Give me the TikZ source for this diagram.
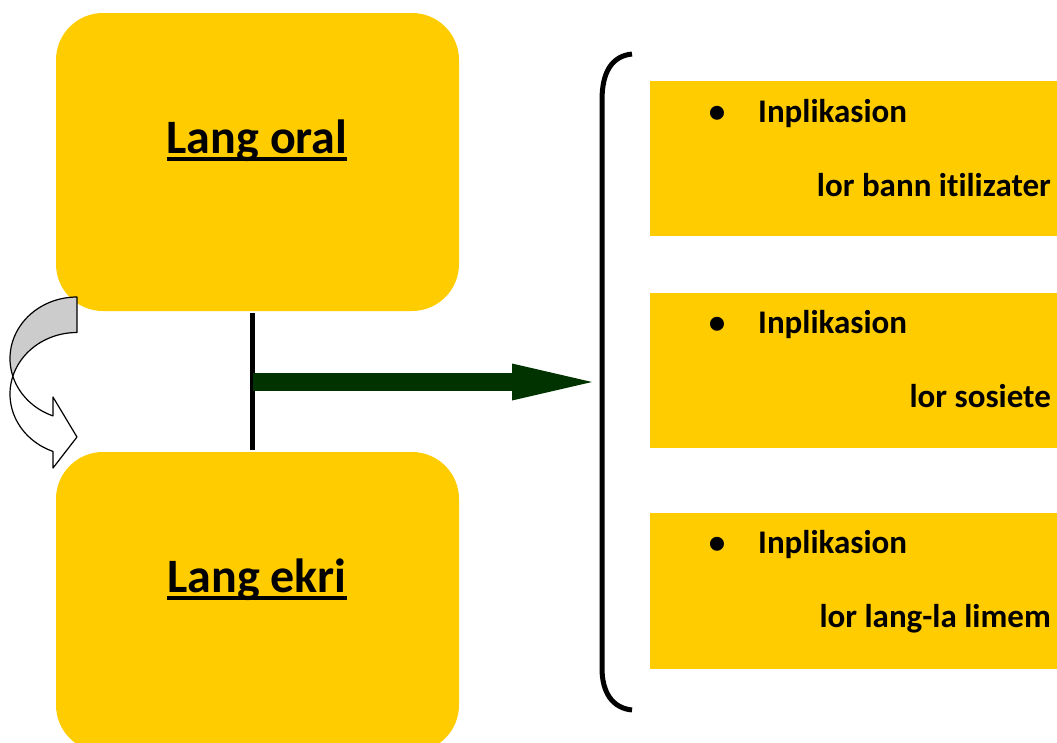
\documentclass[tikz,border=0pt]{standalone}
\usepackage{fontspec}
\setmainfont[Ligatures=NoCommon]{Carlito}
\usetikzlibrary{arrows.meta}
\definecolor{gold}{HTML}{FFCC00}
\definecolor{darkgreen}{HTML}{003300}
\definecolor{foldgray}{HTML}{CCCCCC}
\newcommand{\titleline}[1]{\setbox0=\hbox{#1}\rlap{\rule[-8pt]{\wd0}{4pt}}\box0}
\begin{document}
\begin{tikzpicture}[x=1pt, y=-1pt,
		bigbox/.style={fill=gold, rounded corners=47pt, minimum width=403pt, minimum height=298pt},
		sidebox/.style={fill=gold, minimum width=420pt, minimum height=155pt},
		title/.style={anchor=base, font=\fontsize{48}{58}\selectfont\bfseries},
		item/.style={anchor=base west, font=\fontsize{33}{40}\selectfont\bfseries},
		note/.style={anchor=base east, font=\fontsize{33}{40}\selectfont\bfseries},
		bigarrow/.style={line width=18pt, draw=darkgreen, -{Triangle[length=80pt, width=37pt, line width=0pt]}},
		fold/.style={draw=black, line width=1.2pt, line join=round}]
	\tikzstyle{every node}=[inner sep=0pt]
	\useasboundingbox (0,0) rectangle (1057,742);
		\node[bigbox] (Oral) at (257.5,162) {};
		\node[bigbox, minimum height=300pt] (Ekri) at (257.5,602) {};
		\node[title] (OralT) at (257,153) {\titleline{Lang oral}};
		\node[title] (EkriT) at (257,592) {\titleline{Lang ekri}};
		\node[sidebox] (b1) at (860,158.5) {};
		\node[sidebox] (b2) at (860,370.5) {};
		\node[sidebox, minimum height=156pt] (b3) at (860,591) {};
		\foreach \b/\y/\txt in {1/122/lor bann itilizater, 2/333/lor sosiete, 3/553/lor lang-la limem} {
			\node[item] (i\b) at (758,\y) {\llap{\textbullet\hspace{33pt}}Inplikasion};
			\node[note] (n\b) at (1051,\y+74) {\txt};
		}
		\draw[line width=5pt, shorten <=2pt, shorten >=2pt]
			([xshift=-5.5pt]Oral.south) -- ([xshift=-5.5pt]Ekri.north);
		\coordinate (stem) at (253,382);
		\coordinate (brace) at (592,382);
		\draw[bigarrow] (stem) -- (brace);
		\draw[line width=5pt] (632,54) .. controls (612,56) and (602,72) .. (602,100)
			-- (602,668) .. controls (602,692) and (612,708) .. (632,710);
		\filldraw[fold, fill=white]
			plot[domain=196.8:249, samples=30] ({77+67*cos(\x)},{358.5-61.5*sin(\x)})
			-- (53,397) -- (77,437) -- (53,468) -- (53,452)
			-- plot[domain=249:163.2, samples=40] ({77+67*cos(\x)},{394-61.5*sin(\x)}) -- cycle;
		\filldraw[fold, fill=foldgray]
			plot[domain=90:196.8, samples=40] ({77+67*cos(\x)},{358.5-61.5*sin(\x)})
			-- plot[domain=163.2:90, samples=40] ({77+67*cos(\x)},{394-61.5*sin(\x)}) -- cycle;
\end{tikzpicture}
\end{document}
